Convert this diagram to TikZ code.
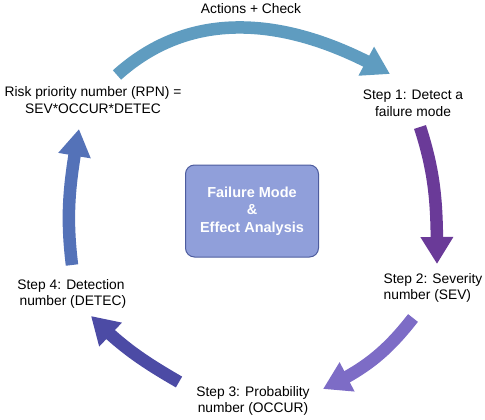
\documentclass[tikz,border=0pt]{standalone}
\usepackage{fontspec}
\setmainfont{Liberation Sans}
\usetikzlibrary{arrows.meta,bending}
\definecolor{cTop}{HTML}{5F9CC0}
\definecolor{cRight}{HTML}{6A3A98}
\definecolor{cBR}{HTML}{7D6CC6}
\definecolor{cBL}{HTML}{4C4BA5}
\definecolor{cLeft}{HTML}{5472B8}
\definecolor{cBoxFill}{HTML}{909FDA}
\definecolor{cBoxLine}{HTML}{4D5C9E}
\tikzset{
  lbl/.style={font=\fontsize{13.8}{16.5}\selectfont, align=center, inner sep=0pt},
  bigarrow/.style={line width=12.5pt, -{Triangle[length=27pt,width=31pt]}},
  centerbox/.style={draw=cBoxLine, line width=1pt, fill=cBoxFill, rounded corners=9pt,
    minimum width=133pt, minimum height=92pt, text=white, align=center,
    font=\bfseries\fontsize{14.5}{17.5}\selectfont}
}
\begin{document}
\begin{tikzpicture}[x=1pt,y=-1pt]
\useasboundingbox (0,0) rectangle (485,420);
% labels
\node[lbl] (act) at (251,9) {Actions + Check};
\node[lbl] (rpn) at (93,100) {Risk priority number (RPN) =\\SEV*OCCUR*DETEC};
\node[lbl] (s1) at (413,103) {Step 1: Detect a\\failure mode};
\node[lbl, align=left] (s2) at (433,288) {Step 2: Severity\\number (SEV)};
\node[lbl] (s3) at (253,401) {Step 3: Probability\\number (OCCUR)};
\node[lbl] (s4) at (71,294) {Step 4: Detection\\\ number (DETEC)};
\node[centerbox] (box) at (252,211) {Failure Mode\\\&\\Effect Analysis};
% arrow end points
\coordinate (a1s) at (117,75);
\coordinate (a1e) at (390,74);
\coordinate (a2s) at (420,127);
\coordinate (a2e) at (437,264);
\coordinate (a3s) at (413,318);
\coordinate (a3e) at (323,389);
\coordinate (a4s) at (179,382);
\coordinate (a4e) at (91,316);
\coordinate (a5s) at (72,265);
\coordinate (a5e) at (79,129);
% arrows
\draw[bigarrow, cTop] (a1s) to[out=42,in=150] (a1e);
\draw[bigarrow, cRight] (a2s) to[out=-72,in=90] (a2e);
\draw[bigarrow, cBR] (a3s) to[out=-128,in=25] (a3e);
\draw[bigarrow, cBL] (a4s) to[out=150,in=-45] (a4e);
\draw[bigarrow, cLeft] (a5s) to[out=97,in=-100] (a5e);
\end{tikzpicture}
\end{document}
